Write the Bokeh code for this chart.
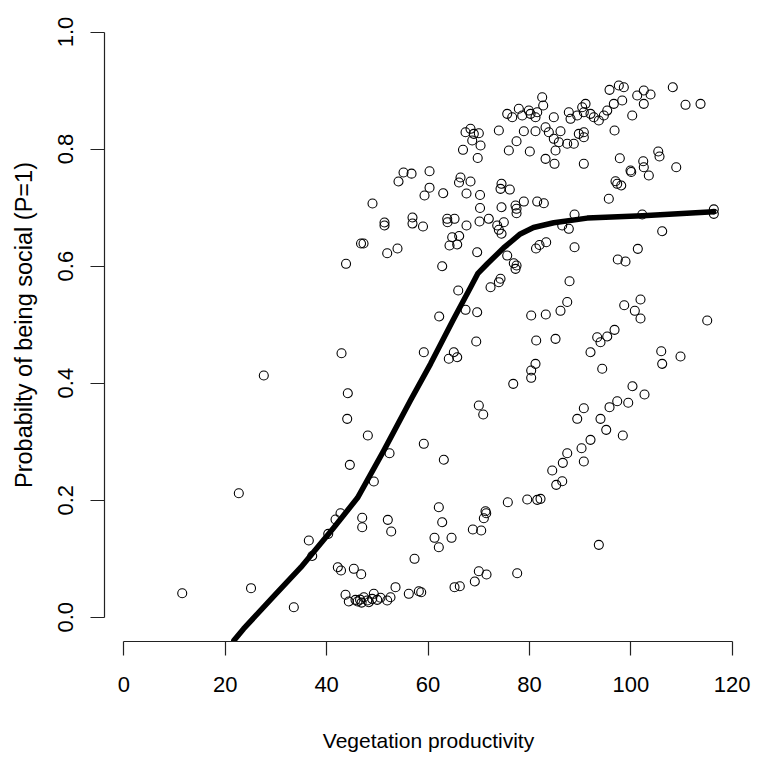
from bokeh.plotting import figure
from bokeh.models import Range1d, PrintfTickFormatter
from bokeh.embed import file_html
from bokeh.resources import INLINE

# ---- data ----
x_ticks = [0, 20, 40, 60, 80, 100, 120]
y_ticks = [0.0, 0.2, 0.4, 0.6, 0.8, 1.0]

# scatter: vegetation productivity vs probability
pts_x = [
    # upper-left cloud
    55.17, 56.75, 60.30, 54.18, 60.30, 59.31, 49.05, 51.42, 51.42, 56.94, 56.94, 59.01,
    46.79, 47.28, 51.95, 53.98, 43.83,
    # x 62-72, upper
    67.40, 68.38, 69.03, 70.02, 68.72, 70.36, 66.90, 69.80, 63.00, 66.41, 66.11, 68.38,
    67.59, 70.26, 70.26, 63.79, 63.85, 65.23, 67.59, 70.16, 71.99, 64.77, 66.15, 64.24,
    65.76, 69.70, 62.80, 65.96, 62.21, 67.40, 69.70,
    # upper-right cloud
    82.52, 82.72, 95.80, 97.63, 98.62, 96.65, 98.30, 101.26, 102.56, 103.89, 102.56,
    108.28, 110.79, 113.75, 100.28, 96.79,
    75.62, 76.61, 77.91, 78.58, 79.88, 80.22, 81.54, 81.20, 84.81,
    87.77, 88.11, 89.43, 90.41, 91.07, 90.73, 92.05, 92.70, 93.69, 94.68, 95.35,
    73.97, 78.90, 81.20, 83.18, 83.83, 86.13, 84.81, 85.15, 85.80, 87.46, 88.76,
    89.74, 90.73, 90.73, 75.94, 77.46, 80.08, 83.18, 84.95, 90.73, 97.83,
    105.41, 105.66, 102.45, 102.56, 103.55, 99.94, 100.08, 108.96,
    96.98, 97.32, 98.11, 95.66,
    73.65, 73.97, 74.50, 74.95, 74.50, 74.30, 76.13, 74.50, 77.26, 77.46, 77.46, 78.90,
    81.54, 82.84, 75.62, 76.92, 77.46, 77.26, 81.30, 81.99, 83.31, 88.90, 86.47, 87.77,
    88.90, 97.43, 98.95, 101.38, 106.19, 116.37, 116.37, 102.25,
    72.33, 73.97, 74.30, 87.91, 87.46, 86.13, 80.35, 83.23, 98.70, 100.79, 101.91,
    101.91, 115.07,
    # lower-left
    42.94, 59.17, 27.61, 44.18, 44.06, 48.13, 59.17, 52.41, 44.58, 49.31, 22.68,
    42.74, 41.76, 47.02, 47.02, 52.07, 52.74, 36.49, 40.32, 37.16, 57.34,
    42.21, 42.84, 45.37, 46.82, 11.52, 25.09, 33.53,
    43.73, 44.38, 45.70, 47.34, 48.01, 48.32, 48.99, 49.31, 49.98, 50.63, 51.95,
    52.60, 53.59, 56.21, 58.19, 58.66, 46.10, 46.60, 46.90,
    # lower-right
    65.09, 64.10, 65.76, 69.51, 81.34, 85.15, 80.35, 81.20, 80.35, 76.81,
    92.05, 93.37, 94.02, 95.35, 96.79, 94.36, 106.00, 106.19, 109.80,
    70.02, 70.89, 63.12, 90.73, 89.43, 94.02, 95.80, 97.32, 99.49, 100.33, 102.70,
    95.15, 98.42, 90.28, 92.05, 90.73, 87.46, 86.59, 84.50, 86.47, 85.29,
    79.57, 81.54, 82.19, 75.74, 71.34, 71.48, 71.01, 62.13, 62.80, 61.28, 62.13,
    64.64, 68.84, 70.49, 93.69, 70.02, 71.54, 69.23, 77.59, 65.23, 66.27,
]
pts_y = [
    0.760, 0.758, 0.762, 0.7445, 0.734, 0.7206, 0.707, 0.6745, 0.6693, 0.683, 0.6727, 0.6676,
    0.6386, 0.6386, 0.622, 0.630, 0.6039,
    0.8288, 0.8346, 0.826, 0.827, 0.8146, 0.806, 0.7987, 0.7847, 0.7245, 0.7514, 0.7428, 0.7445,
    0.724, 0.7215, 0.6992, 0.6808, 0.675, 0.6808, 0.6693, 0.6762, 0.6808, 0.6493, 0.6514, 0.6352,
    0.6369, 0.6237, 0.5998, 0.5583, 0.5138, 0.5253, 0.5212,
    0.8886, 0.8744, 0.9012, 0.9086, 0.9057, 0.8773, 0.883, 0.8915, 0.900, 0.8932, 0.8773,
    0.9057, 0.8756, 0.8773, 0.8573, 0.8317,
    0.8602, 0.8544, 0.8688, 0.8573, 0.8658, 0.8602, 0.8629, 0.8544, 0.8544,
    0.8629, 0.8517, 0.8573, 0.8715, 0.8773, 0.8629, 0.8602, 0.8544, 0.8488, 0.8573, 0.8658,
    0.8317, 0.8305, 0.8305, 0.8373, 0.8288, 0.8305, 0.8175, 0.7975, 0.8117, 0.809, 0.809,
    0.826, 0.8288, 0.8202, 0.7975, 0.8134, 0.7958, 0.7833, 0.7748, 0.7748, 0.7843,
    0.7958, 0.7873, 0.7792, 0.769, 0.7548, 0.7633, 0.7608, 0.769,
    0.745, 0.7406, 0.7377, 0.715,
    0.6693, 0.662, 0.6552, 0.675, 0.7406, 0.732, 0.7308, 0.7006, 0.7035, 0.6979, 0.6904, 0.7103,
    0.7103, 0.7074, 0.618, 0.6049, 0.601, 0.5953, 0.630, 0.636, 0.6408, 0.6323, 0.6693, 0.6637,
    0.6881, 0.6112, 0.6078, 0.6295, 0.6596, 0.697, 0.6893, 0.6881,
    0.5639, 0.5725, 0.5783, 0.5742, 0.5386, 0.5236, 0.5155, 0.5173, 0.5331, 0.5236, 0.5429,
    0.5104, 0.507,
    0.4511, 0.4528, 0.413, 0.3828, 0.339, 0.3105, 0.2963, 0.2802, 0.2604, 0.2319, 0.2119,
    0.1777, 0.167, 0.1699, 0.1538, 0.1664, 0.1464, 0.1311, 0.1425, 0.1046, 0.0998,
    0.0854, 0.0798, 0.0827, 0.0735, 0.041, 0.0496, 0.0171,
    0.0383, 0.0268, 0.0297, 0.0342, 0.0285, 0.0256, 0.0314, 0.040, 0.0297, 0.0332, 0.0285,
    0.0342, 0.0513, 0.040, 0.0444, 0.0427, 0.0268, 0.030, 0.025,
    0.4528, 0.4416, 0.4443, 0.4711, 0.4728, 0.4757, 0.4216, 0.433, 0.4091, 0.3988,
    0.4528, 0.4785, 0.4699, 0.4797, 0.4911, 0.4245, 0.4545, 0.433, 0.4455,
    0.3618, 0.3464, 0.269, 0.3571, 0.339, 0.339, 0.3589, 0.3691, 0.3664, 0.3947, 0.3806,
    0.3202, 0.3105, 0.2888, 0.3031, 0.2661, 0.2802, 0.2638, 0.2507, 0.2324, 0.2262,
    0.2011, 0.2006, 0.2023, 0.1965, 0.1811, 0.1777, 0.1692, 0.188, 0.1623, 0.1357, 0.1196,
    0.1357, 0.1499, 0.1482, 0.1237, 0.0786, 0.073, 0.061, 0.0752, 0.0513, 0.053,
]

# fitted curve
curve_x = [21.7, 23.6, 30.0, 34.9, 41.4, 46.1, 51.3, 56.5, 60.5, 64.9, 68.4, 69.8, 71.7,
           74.9, 78.2, 80.8, 84.8, 91.4, 102.3, 116.3]
curve_y = [-0.04, -0.02, 0.04, 0.085, 0.153, 0.204, 0.285, 0.370, 0.433, 0.507, 0.564,
           0.587, 0.604, 0.631, 0.655, 0.666, 0.674, 0.682, 0.686, 0.693]

FONT = "Liberation Sans"

p = figure(width=755, height=755, output_backend="svg", toolbar_location=None,
           x_range=Range1d(-3.81, 124.0), y_range=Range1d(-0.0415, 1.0402),
           min_border_left=104, min_border_right=3, min_border_top=8, min_border_bottom=114)
p.outline_line_color = None
p.grid.visible = False
p.background_fill_color = "white"
p.border_fill_color = "white"

p.scatter(pts_x, pts_y, marker="circle", size=9, fill_color=None,
          line_color="black", line_width=1.1)
p.line(curve_x, curve_y, line_color="black", line_width=5.5,
       line_cap="round", line_join="round")

for ax in (p.xaxis[0], p.yaxis[0]):
    ax.axis_line_color = "#222222"
    ax.major_tick_line_color = "#222222"
    ax.axis_line_width = 1.2
    ax.major_tick_line_width = 1.2
    ax.major_tick_out = 14
    ax.major_tick_in = 0
    ax.minor_tick_out = 0
    ax.minor_tick_in = 0
    ax.major_label_text_font = FONT
    ax.major_label_text_color = "black"
    ax.axis_label_text_font = FONT
    ax.axis_label_text_font_style = "normal"
    ax.axis_label_text_color = "black"

xa = p.xaxis[0]
xa.ticker = x_ticks
xa.bounds = (0, 120)
xa.major_label_text_font_size = "22px"
xa.major_label_standoff = 21
xa.axis_label = "Vegetation productivity"
xa.axis_label_text_font_size = "21px"
xa.axis_label_standoff = 34

ya = p.yaxis[0]
ya.ticker = y_ticks
ya.bounds = (0, 1)
ya.formatter = PrintfTickFormatter(format="%.1f")
ya.major_label_orientation = "vertical"
ya.major_label_text_font_size = "22px"
ya.major_label_standoff = 17
ya.axis_label = "Probabilty of being social (P=1)"
ya.axis_label_text_font_size = "23.5px"
ya.axis_label_standoff = 19

open("out.html", "w").write(file_html(p, INLINE))
